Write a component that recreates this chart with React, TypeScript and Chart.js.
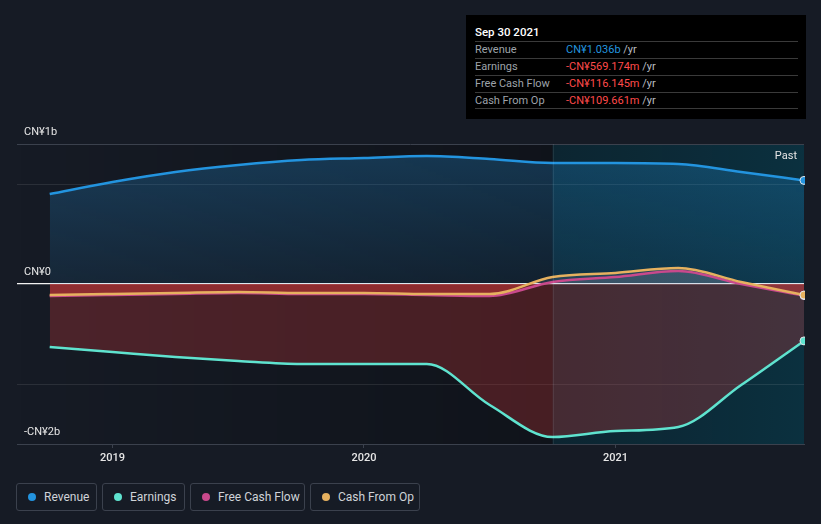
import React, { useEffect, useRef } from "react";
import { Chart, registerables } from "chart.js";

Chart.register(...registerables);

// ---- data (values in CN¥ billions) ----
const quarters = [2018.75, 2019.0, 2019.25, 2019.5, 2019.75, 2020.0, 2020.25, 2020.5, 2020.75, 2021.0, 2021.25, 2021.5, 2021.75];
const revenue = [0.9, 1.02, 1.12, 1.19, 1.24, 1.26, 1.28, 1.25, 1.21, 1.21, 1.2, 1.12, 1.036];
const earnings = [-0.63, -0.68, -0.73, -0.77, -0.8, -0.8, -0.8, -1.21, -1.53, -1.47, -1.43, -1.01, -0.569];
const freeCashFlow = [-0.12, -0.11, -0.1, -0.09, -0.1, -0.1, -0.11, -0.12, 0.02, 0.07, 0.13, 0.0, -0.116];
const cashFromOp = [-0.11, -0.1, -0.09, -0.08, -0.09, -0.09, -0.1, -0.1, 0.07, 0.11, 0.16, 0.02, -0.11];

const xTickYears = [2019, 2020, 2021];
const yLabelValues = [1.4, 0, -1.6];
const yLabelTexts = ["CN¥1b", "CN¥0", "-CN¥2b"];
const yGridValues = [-1.6, -1, 0, 1, 1.4];
const pastStart = 2020.75;
const pastLabel = "Past";

const seriesNames = ["Revenue", "Earnings", "Free Cash Flow", "Cash From Op"];
const seriesColors = ["#2394df", "#5fe3cf", "#c9498c", "#e6b15f"];

const tooltipTitle = "Sep 30 2021";
const tooltipValues = ["CN¥1.036b", "-CN¥569.174m", "-CN¥116.145m", "-CN¥109.661m"];
const tooltipValueColors = ["#2394df", "#ff4a4a", "#ff4a4a", "#ff4a4a"];

const legendWidths = [81, 83, 115, 110];

const FONT = "Roboto, 'Noto Sans', sans-serif";

export default function App() {
  const canvasRef = useRef<HTMLCanvasElement | null>(null);

  useEffect(() => {
    const canvas = canvasRef.current;
    if (!canvas) return;

    const bgPlugin = {
      id: "bgPlugin",
      beforeDraw(chart: any) {
        const { ctx, chartArea: a, scales } = chart;
        const xs = scales.x;
        const px = xs.getPixelForValue(pastStart);
        ctx.save();
        const g = ctx.createLinearGradient(a.left, 0, px, 0);
        g.addColorStop(0, "rgba(0,0,0,0)");
        g.addColorStop(1, "rgba(0,0,0,0.28)");
        ctx.fillStyle = g;
        ctx.fillRect(a.left, a.top, px - a.left, a.bottom - a.top);
        const h = ctx.createLinearGradient(px, 0, a.right, 0);
        h.addColorStop(0, "rgba(0,52,66,0.42)");
        h.addColorStop(1, "rgba(0,72,92,0.48)");
        ctx.fillStyle = h;
        ctx.fillRect(px, a.top, a.right - px, a.bottom - a.top);
        ctx.restore();
      },
      afterDraw(chart: any) {
        const { ctx, chartArea: a, scales } = chart;
        const xs = scales.x;
        const ys = scales.y;
        const px = xs.getPixelForValue(pastStart);
        ctx.save();
        ctx.strokeStyle = "rgba(255,255,255,0.08)";
        ctx.lineWidth = 1;
        ctx.beginPath();
        ctx.moveTo(Math.round(px) + 0.5, a.top);
        ctx.lineTo(Math.round(px) + 0.5, a.bottom);
        ctx.stroke();

        ctx.fillStyle = "#e6e6e6";
        ctx.font = `11px ${FONT}`;
        ctx.textBaseline = "middle";
        ctx.textAlign = "left";
        yLabelValues.forEach((v, i) => {
          ctx.fillText(yLabelTexts[i], 24, ys.getPixelForValue(v) - 12);
        });
        ctx.textAlign = "right";
        ctx.fillText(pastLabel, a.right - 7, a.top + 12);
        ctx.restore();
      },
    };

    const makeRevenueFill = (context: any) => {
      const chart = context.chart;
      const { ctx, chartArea, scales } = chart;
      if (!chartArea) return "rgba(35,148,223,0.2)";
      const top = scales.y.getPixelForValue(1.3);
      const zero = scales.y.getPixelForValue(0);
      const g = ctx.createLinearGradient(0, top, 0, zero);
      g.addColorStop(0, "rgba(35,148,223,0.27)");
      g.addColorStop(1, "rgba(35,148,223,0.10)");
      return g;
    };

    const lastIdx = quarters.length - 1;
    const pointR = (c: any) => (c.dataIndex === lastIdx ? 4 : 0);

    const mk = (i: number, values: number[], fill: any, order: number) => ({
      label: seriesNames[i],
      data: quarters.map((q, k) => ({ x: q, y: values[k] })),
      borderColor: seriesColors[i],
      backgroundColor: seriesColors[i],
      borderWidth: 2.5,
      cubicInterpolationMode: "monotone" as const,
      pointRadius: pointR,
      pointHoverRadius: 0,
      pointBackgroundColor: seriesColors[i],
      pointBorderColor: "#dfe3e8",
      pointBorderWidth: 1,
      clip: { left: 5, top: 5, right: 1, bottom: 5 },
      fill,
      order,
    });

    const chart = new Chart(canvas, {
      type: "line",
      data: {
        datasets: [
          mk(0, revenue, { target: "origin", above: makeRevenueFill, below: "rgba(0,0,0,0)" }, 0),
          mk(1, earnings, { target: "origin", above: "rgba(0,0,0,0)", below: "rgba(220,60,60,0.27)" }, 1),
          mk(3, cashFromOp, { target: "origin", above: "rgba(205,190,210,0.13)", below: "rgba(220,60,60,0.27)" }, 2),
          mk(2, freeCashFlow, { target: "origin", above: "rgba(205,190,210,0.13)", below: "rgba(220,60,60,0.27)" }, 3),
        ],
      },
      options: {
        animation: false,
        responsive: false,
        maintainAspectRatio: false,
        layout: { padding: { left: 17, right: 17, top: 144, bottom: 0 } },
        events: [],
        plugins: {
          legend: { display: false },
          tooltip: { enabled: false },
          filler: { drawTime: "beforeDatasetsDraw" },
        } as any,
        scales: {
          x: {
            type: "linear",
            min: 2018.62,
            max: 2021.75,
            afterBuildTicks: (s: any) => {
              s.ticks = xTickYears.map((v) => ({ value: v }));
            },
            afterFit: (s: any) => {
              s.height = 36;
            },
            ticks: {
              color: "#e6e6e6",
              font: { family: FONT, size: 11, weight: "500" as any },
              padding: 4,
              autoSkip: false,
              maxRotation: 0,
              callback: (v: any) => String(v),
            },
            grid: { drawOnChartArea: false, drawTicks: true, tickLength: 4, color: "#3b414d" },
            border: { display: true, color: "#3b414d" },
          },
          y: {
            min: -1.6,
            max: 1.4,
            afterBuildTicks: (s: any) => {
              s.ticks = yGridValues.map((v) => ({ value: v }));
            },
            afterFit: (s: any) => {
              s.width = 0;
            },
            ticks: { display: false },
            border: { display: false },
            grid: {
              drawTicks: false,
              color: (c: any) => {
                const v = c.tick ? c.tick.value : null;
                if (v === 0) return "#f2f2f2";
                if (v === 1.4) return "#3b414d";
                if (v === -1.6) return "rgba(0,0,0,0)";
                return "rgba(255,255,255,0.09)";
              },
              lineWidth: (c: any) => (c.tick && c.tick.value === 0 ? 1.3 : 1),
            },
          },
        },
      },
      plugins: [bgPlugin],
    });

    return () => chart.destroy();
  }, []);

  return (
    <div
      style={{
        position: "fixed",
        left: 0,
        top: 0,
        width: 821,
        height: 524,
        background: "#161b25",
        fontFamily: FONT,
        overflow: "hidden",
      }}
    >
      <canvas
        ref={canvasRef}
        width={821}
        height={480}
        style={{ position: "absolute", left: 0, top: 0, width: 821, height: 480 }}
      />
      <div
        style={{
          position: "absolute",
          left: 466,
          top: 15,
          width: 340,
          height: 104,
          background: "#000",
        }}
      >
        <div
          style={{
            position: "absolute",
            left: 9,
            top: 10,
            lineHeight: "14px",
            fontSize: 11.5,
            fontWeight: 500,
            color: "#ffffff",
            whiteSpace: "nowrap",
          }}
        >
          {tooltipTitle}
        </div>
        {seriesNames.map((name, i) => (
          <div
            key={name}
            style={{
              position: "absolute",
              left: 9,
              top: 26 + i * 17,
              width: 323,
              height: 17,
              borderTop: "1px solid #3a3a3a",
              borderBottom: i === seriesNames.length - 1 ? "1px solid #3a3a3a" : "none",
              boxSizing: "border-box",
              fontSize: 11,
              lineHeight: "16px",
            }}
          >
            <span style={{ position: "absolute", left: 0, color: "#9ea3aa", whiteSpace: "nowrap" }}>{name}</span>
            <span style={{ position: "absolute", left: 91, whiteSpace: "nowrap" }}>
              <span style={{ color: tooltipValueColors[i] }}>{tooltipValues[i]}</span>
              <span style={{ color: "#b8bcc2" }}> /yr</span>
            </span>
          </div>
        ))}
      </div>
      <div style={{ position: "absolute", left: 16, top: 483, display: "flex", gap: 5 }}>
        {seriesNames.map((name, i) => (
          <div
            key={name}
            style={{
              width: legendWidths[i],
              height: 28,
              boxSizing: "border-box",
              border: "1px solid #3b414d",
              borderRadius: 3,
              display: "flex",
              alignItems: "center",
              paddingLeft: 11,
              fontSize: 12,
              color: "#cfd3d8",
              whiteSpace: "nowrap",
            }}
          >
            <span
              style={{
                width: 8,
                height: 8,
                borderRadius: 4,
                background: seriesColors[i],
                marginRight: 8,
                flex: "0 0 auto",
              }}
            />
            {name}
          </div>
        ))}
      </div>
    </div>
  );
}
